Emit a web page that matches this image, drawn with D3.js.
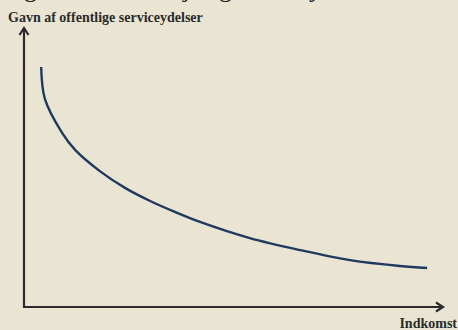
<!DOCTYPE html>
<html><head><meta charset="utf-8">
<script src="https://cdn.jsdelivr.net/npm/d3@7"></script>
<style>html,body{margin:0;padding:0;background:#EAE5D3;}svg{display:block;}</style>
</head><body>
<svg id="c" width="458" height="330"></svg>
<script>
const income = [0.41, 0.50, 0.91, 1.22, 1.81, 2.41, 3.01, 3.60, 4.20, 5.39, 6.59, 7.78, 8.97, 9.62];
const benefit = [8.60, 7.45, 6.24, 5.63, 4.87, 4.27, 3.80, 3.41, 3.05, 2.47, 2.04, 1.68, 1.47, 1.40];
const yTitle = "Gavn af offentlige serviceydelser";
const xTitle = "Indkomst";
const topGlyphs = ["g", "j", "g", "y"];
const topGlyphX = [24, 183, 219, 309];

const svg = d3.select("#c");
const W = 458, H = 330;
svg.append("rect").attr("width", W).attr("height", H).attr("fill", "#EAE5D3");

const x = d3.scaleLinear().domain([0, 10]).range([24, 443]);
const y = d3.scaleLinear().domain([0, 10]).range([307, 28]);

// cut-off title descenders at the very top
svg.append("g").selectAll("text").data(topGlyphs).join("text")
  .attr("x", (d, i) => topGlyphX[i]).attr("y", -3)
  .attr("font-family", "Liberation Serif, serif").attr("font-size", 26)
  .attr("fill", "#222").text(d => d);

const axisColor = "#2b2b2b";
svg.append("line").attr("x1", x(0)).attr("y1", y(0)).attr("x2", x(0)).attr("y2", y(10) + 1)
  .attr("stroke", axisColor).attr("stroke-width", 2.2);
svg.append("line").attr("x1", x(0) - 1).attr("y1", y(0)).attr("x2", x(10) - 1).attr("y2", y(0))
  .attr("stroke", axisColor).attr("stroke-width", 2.2);
svg.append("path").attr("d", `M${x(0)-4.5},${y(10)+7} L${x(0)},${y(10)} L${x(0)+4.5},${y(10)+7}`)
  .attr("fill", "none").attr("stroke", axisColor).attr("stroke-width", 2.2);
svg.append("path").attr("d", `M${x(10)-7},${y(0)-4.5} L${x(10)},${y(0)} L${x(10)-7},${y(0)+4.5}`)
  .attr("fill", "none").attr("stroke", axisColor).attr("stroke-width", 2.2);

svg.append("text").attr("x", 8).attr("y", 22)
  .attr("font-family", "Liberation Serif, serif").attr("font-weight", "bold").attr("font-size", 14)
  .attr("fill", "#2b2b2b").text(yTitle);
svg.append("text").attr("x", 457).attr("y", 328).attr("text-anchor", "end")
  .attr("font-family", "Liberation Serif, serif").attr("font-weight", "bold").attr("font-size", 14)
  .attr("fill", "#2b2b2b").text(xTitle);

const pts = income.map((v, i) => [v, benefit[i]]);
const line = d3.line().x(d => x(d[0])).y(d => y(d[1])).curve(d3.curveCatmullRom.alpha(0.5));
svg.append("path").attr("d", line(pts)).attr("fill", "none")
  .attr("stroke", "#1E3A5F").attr("stroke-width", 2.4).attr("stroke-linecap", "butt");
</script>
</body></html>
